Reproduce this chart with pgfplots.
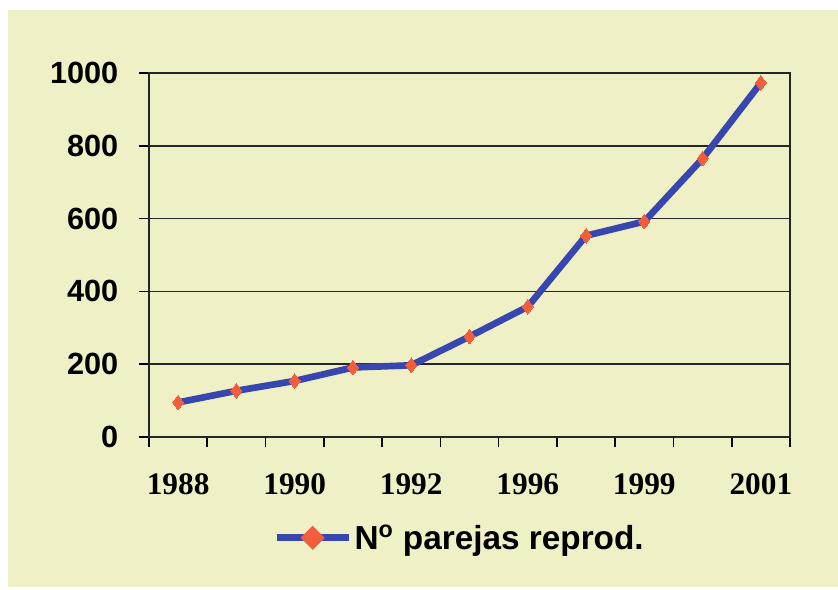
\documentclass[border=0pt]{standalone}
\usepackage{fontspec}
\setmainfont{Liberation Serif}
\setsansfont{Liberation Sans}
\usepackage{pgfplots}
\pgfplotsset{compat=1.18}
\definecolor{bgyellow}{RGB}{240,240,198}
\definecolor{lineblue}{RGB}{56,70,176}
\definecolor{markred}{RGB}{242,94,60}
\begin{document}
\begin{tikzpicture}
\fill[white] (-111.75pt,-114pt) rectangle (516.75pt,327.75pt);
\fill[bgyellow] (-105.75pt,-112.5pt) rectangle (516.75pt,320.25pt);
\begin{axis}[
  scale only axis,
  width=480.75pt, height=273pt,
  xmin=-0.5, xmax=10.5,
  ymin=0, ymax=1000,
  ytick={0,200,...,1000},
  xtick={-0.5,0.5,...,10.5},
  xticklabels={},
  extra x ticks={0,2,4,6,8,10},
  extra x tick labels={1988,1990,1992,1996,1999,2001},
  extra x tick style={major tick length=0pt, xticklabel style={yshift=-24pt}},
  tick align=outside,
  tick pos=left,
  major tick length=7.5pt,
  every tick/.style={black, line width=1.2pt},
  ymajorgrids,
  major grid style={black!85, line width=1.2pt},
  axis line style={black!85, line width=1.2pt},
  clip=false,
  /pgf/number format/assume math mode=true,
  /pgf/number format/1000 sep={},
  xticklabel style={font=\rmfamily\bfseries\fontsize{23.5}{26}\selectfont},
  yticklabel style={font=\sffamily\bfseries\fontsize{23}{26}\selectfont, xshift=-12pt},
  legend style={at={(0.485,-0.277)}, anchor=center, draw=none, fill=none,
    font=\sffamily\bfseries\fontsize{25}{28}\selectfont},
  legend image code/.code={
    \draw[lineblue, line width=5pt] (0pt,0pt) -- (54pt,0pt);
    \fill[markred] (27pt,0pt) +(0,5.5pt) -- +(5.5pt,0) -- +(0,-5.5pt) -- +(-5.5pt,0) -- cycle;
  },
]
\addplot[lineblue, line width=5pt, mark=diamond*, mark size=5.5pt,
  mark options={fill=markred, draw=markred, line width=0pt}]
  coordinates {(0,95) (1,127) (2,154) (3,191) (4,197) (5,276) (6,358) (7,553) (8,592) (9,765) (10,973)};
\addlegendentry{N\textsuperscript{o} parejas reprod.}
\end{axis}
\end{tikzpicture}
\end{document}
